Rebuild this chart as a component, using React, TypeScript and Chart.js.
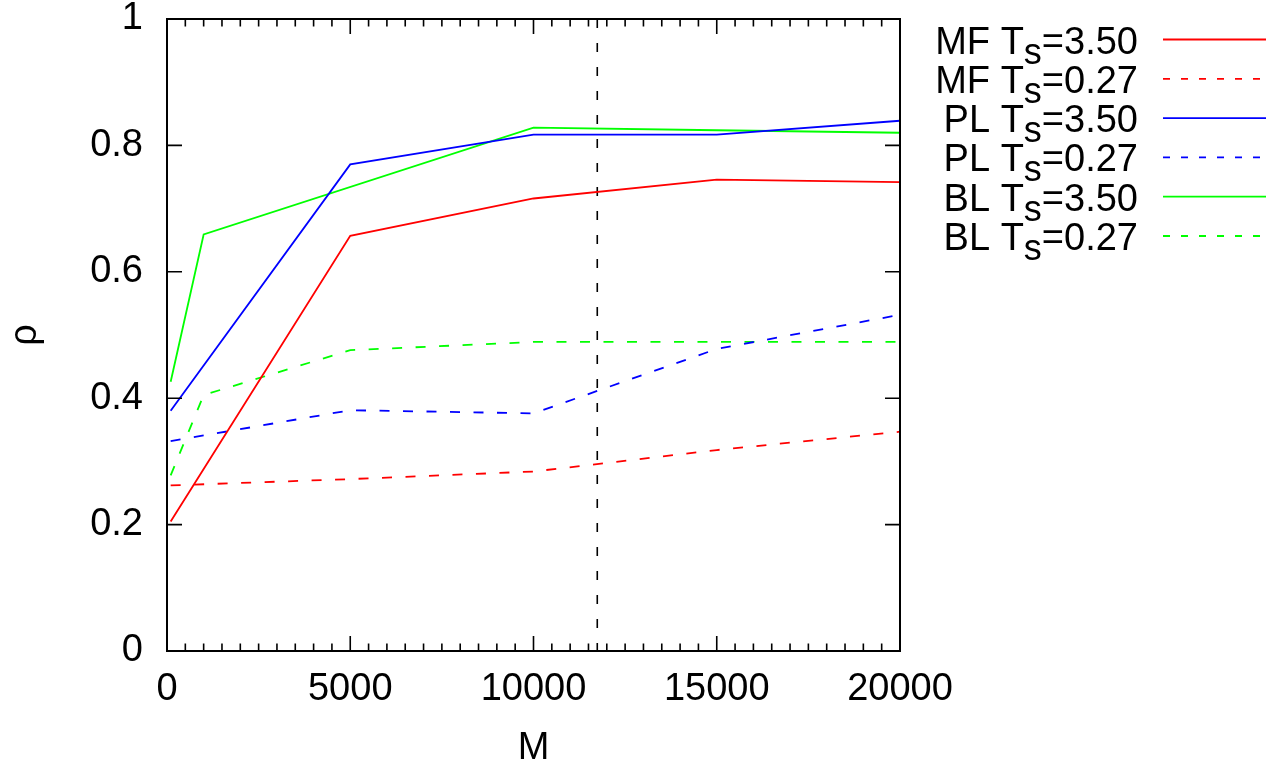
import { useEffect, useRef } from "react";
import { Chart, registerables } from "chart.js";

Chart.register(...registerables);

// Sample sizes M at which rho was measured (null = no sample for that series)
const M_VALUES = [100, 1000, 5000, 10000, 15000, 20000];
const MF_TS_350 = [0.205, null, 0.657, 0.716, 0.746, 0.742];
const MF_TS_027 = [0.262, null, 0.272, 0.284, 0.318, 0.347];
const PL_TS_350 = [0.38, null, 0.77, 0.817, 0.817, 0.839];
const PL_TS_027 = [0.332, null, 0.381, 0.376, 0.478, 0.532];
const BL_TS_350 = [0.426, 0.659, null, 0.828, 0.824, 0.82];
const BL_TS_027 = [0.278, 0.405, 0.476, 0.489, 0.489, 0.489];

const SERIES_METHOD = ["MF", "MF", "PL", "PL", "BL", "BL"];
const SERIES_TS = ["3.50", "0.27", "3.50", "0.27", "3.50", "0.27"];
const SERIES_VALUES = [MF_TS_350, MF_TS_027, PL_TS_350, PL_TS_027, BL_TS_350, BL_TS_027];
const SERIES_COLOR = ["#ff0000", "#ff0000", "#0000ff", "#0000ff", "#00ff00", "#00ff00"];
const SERIES_DASHED = [false, true, false, true, false, true];

// Vertical reference marker on the M axis
const M_MARK = 11740;

const X_MIN = 0;
const X_MAX = 20000;
const X_STEP = 5000;
const X_MINOR_PER_MAJOR = 10;
const Y_MIN = 0;
const Y_MAX = 1;
const Y_STEP = 0.2;

const FONT = '"Liberation Sans", Arial, Helvetica, sans-serif';
const FONT_SIZE = 38;

const W = 1282;
const H = 771;

// Frame with inward ticks on all four sides (major + minor on x)
const framePlugin = {
  id: "frameTicks",
  afterDraw(chart: any) {
    const { ctx, chartArea: a, scales } = chart;
    const xs = scales.x;
    const ys = scales.y;
    ctx.save();
    ctx.strokeStyle = "#000";
    ctx.setLineDash([]);
    ctx.lineWidth = 1.6;
    const major = 15;
    const minor = 7.5;
    ctx.beginPath();
    const xTicks = xs.ticks.map((t: any) => t.value);
    for (let i = 0; i < xTicks.length; i++) {
      const v = xTicks[i];
      const px = xs.getPixelForValue(v);
      ctx.moveTo(px, a.bottom);
      ctx.lineTo(px, a.bottom - major);
      ctx.moveTo(px, a.top);
      ctx.lineTo(px, a.top + major);
      if (i < xTicks.length - 1) {
        const step = (xTicks[i + 1] - v) / X_MINOR_PER_MAJOR;
        for (let k = 1; k < X_MINOR_PER_MAJOR; k++) {
          const mx = xs.getPixelForValue(v + k * step);
          ctx.moveTo(mx, a.bottom);
          ctx.lineTo(mx, a.bottom - minor);
          ctx.moveTo(mx, a.top);
          ctx.lineTo(mx, a.top + minor);
        }
      }
    }
    ys.ticks.forEach((t: any) => {
      const py = ys.getPixelForValue(t.value);
      ctx.moveTo(a.left, py);
      ctx.lineTo(a.left + major, py);
      ctx.moveTo(a.right, py);
      ctx.lineTo(a.right - major, py);
    });
    ctx.stroke();
    ctx.lineWidth = 2;
    ctx.strokeRect(a.left, a.top, a.right - a.left, a.bottom - a.top);
    ctx.restore();
  },
};

// Dashed vertical marker line
const markerPlugin = {
  id: "markerLine",
  beforeDatasetsDraw(chart: any) {
    const { ctx, chartArea: a, scales } = chart;
    const px = scales.x.getPixelForValue(M_MARK);
    ctx.save();
    ctx.strokeStyle = "#000";
    ctx.lineWidth = 1.6;
    ctx.setLineDash([9, 15]);
    ctx.beginPath();
    ctx.moveTo(px, a.top);
    ctx.lineTo(px, a.bottom);
    ctx.stroke();
    ctx.restore();
  },
};

// Key on the right: right-aligned labels with subscript "s", sample line after
const keyPlugin = {
  id: "sideKey",
  afterDraw(chart: any) {
    const { ctx } = chart;
    const textRight = 1138;
    const lineX0 = 1163;
    const lineX1 = 1266;
    const firstY = 39.5;
    const rowGap = 39.3;
    const mainFont = `${FONT_SIZE}px ${FONT}`;
    const subFont = `${FONT_SIZE - 2}px ${FONT}`;
    ctx.save();
    chart.data.datasets.forEach((ds: any, i: number) => {
      const y = firstY + i * rowGap;
      const base = y + 14;
      const pre = `${SERIES_METHOD[i]} T`;
      const sub = "s";
      const post = `=${SERIES_TS[i]}`;
      ctx.font = mainFont;
      const wPre = ctx.measureText(pre).width;
      const wPost = ctx.measureText(post).width;
      ctx.font = subFont;
      const wSub = ctx.measureText(sub).width;
      let x = textRight - (wPre + wSub + wPost);
      ctx.fillStyle = "#000";
      ctx.textAlign = "left";
      ctx.textBaseline = "alphabetic";
      ctx.font = mainFont;
      ctx.fillText(pre, x, base);
      x += wPre;
      ctx.font = subFont;
      ctx.fillText(sub, x, base + 10);
      x += wSub;
      ctx.font = mainFont;
      ctx.fillText(post, x, base);

      ctx.strokeStyle = ds.borderColor;
      ctx.lineWidth = 1.8;
      ctx.setLineDash(SERIES_DASHED[i] ? [7, 11] : []);
      ctx.beginPath();
      ctx.moveTo(lineX0, y);
      ctx.lineTo(lineX1, y);
      ctx.stroke();
    });
    ctx.restore();
  },
};

export default function App() {
  const canvasRef = useRef<HTMLCanvasElement | null>(null);

  useEffect(() => {
    const canvas = canvasRef.current;
    if (!canvas) return;
    const datasets = SERIES_VALUES.map((vals, i) => ({
      label: `${SERIES_METHOD[i]} Ts=${SERIES_TS[i]}`,
      data: M_VALUES.map((m, j) => ({ x: m, y: vals[j] })),
      borderColor: SERIES_COLOR[i],
      backgroundColor: SERIES_COLOR[i],
      borderWidth: 1.8,
      borderDash: SERIES_DASHED[i] ? [10, 13.5] : [],
      pointRadius: 0,
      pointHoverRadius: 0,
      tension: 0,
      spanGaps: true,
      fill: false,
    }));

    const chart = new Chart(canvas, {
      type: "line",
      data: { datasets },
      plugins: [markerPlugin, framePlugin, keyPlugin],
      options: {
        responsive: false,
        animation: false,
        devicePixelRatio: 1,
        layout: { padding: { left: 0, top: 19, right: W - 900, bottom: 0 } },
        plugins: {
          legend: { display: false },
          tooltip: { enabled: false },
        },
        scales: {
          x: {
            type: "linear",
            min: X_MIN,
            max: X_MAX,
            grid: { display: false, drawTicks: false, tickLength: 0 },
            border: { display: false },
            ticks: {
              stepSize: X_STEP,
              padding: 16,
              color: "#000",
              font: { family: FONT, size: FONT_SIZE },
              maxRotation: 0,
              autoSkip: false,
              callback: (v: any) => String(v),
            },
            title: {
              display: true,
              text: "M",
              color: "#000",
              font: { family: FONT, size: FONT_SIZE },
              padding: 0,
            },
            afterFit: (scale: any) => {
              scale.height = H - 651;
              scale.paddingLeft = 0;
              scale.paddingRight = 0;
            },
          },
          y: {
            type: "linear",
            min: Y_MIN,
            max: Y_MAX,
            grid: { display: false, drawTicks: false, tickLength: 0 },
            border: { display: false },
            ticks: {
              stepSize: Y_STEP,
              padding: 24,
              color: "#000",
              font: { family: FONT, size: FONT_SIZE },
              autoSkip: false,
              callback: (v: any) => String(Math.round(Number(v) * 10) / 10),
            },
            title: {
              display: true,
              text: "ρ",
              color: "#000",
              font: { family: FONT, size: FONT_SIZE },
              padding: { top: 3, bottom: 0 },
            },
            afterFit: (scale: any) => {
              scale.width = 167;
              scale.paddingTop = 0;
              scale.paddingBottom = 0;
            },
          },
        },
      },
    });
    return () => chart.destroy();
  }, []);

  return (
    <div style={{ position: "absolute", left: 0, top: 0, width: W, height: H, background: "#fff" }}>
      <canvas ref={canvasRef} width={W} height={H} style={{ display: "block" }} />
    </div>
  );
}
